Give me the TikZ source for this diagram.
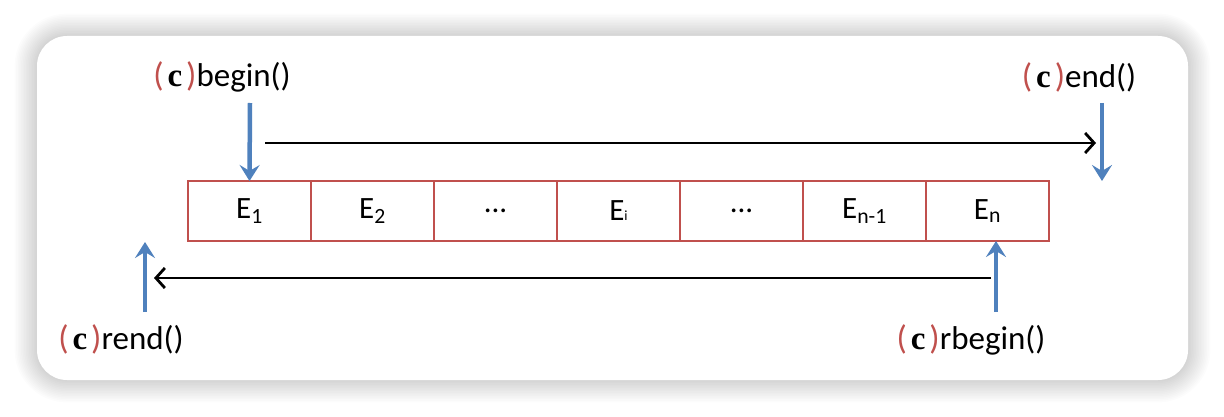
\documentclass[tikz,border=0pt]{standalone}
\usepackage{fontspec}
\setmainfont{Carlito}
\newfontfamily\serifc{Liberation Serif}
\usetikzlibrary{arrows.meta}
\definecolor{cblue}{HTML}{4F81BD}
\definecolor{cred}{HTML}{C0504D}
\newcommand{\cpre}{\textcolor{cred}{\fontsize{34}{34}\selectfont(}\kern4pt{\serifc\bfseries c}\kern4pt\textcolor{cred}{\fontsize{34}{34}\selectfont)}}
\tikzset{
  cell/.style={draw=cred, line width=2.3pt, outer sep=0pt, minimum width=123pt, minimum height=60pt, inner sep=0pt, font=\fontsize{31}{31}\selectfont, anchor=west},
  lbl/.style={font=\fontsize{33}{33}\selectfont, inner sep=0pt},
  bluearrow/.style={draw=cblue, line width=4.5pt, -{Stealth[length=16pt,width=20pt,inset=6pt]}},
  blackarrow/.style={draw=black, line width=2.8pt, -{Straight Barb[length=9pt,width=20pt,line width=2.8pt]}}
}
\begin{document}
\begin{tikzpicture}[x=1pt,y=1pt]
\useasboundingbox (0,0) rectangle (1224,416);
\fill[white] (0,0) rectangle (1224,416);
\foreach \i in {1,...,14}{
  \fill[black, opacity=0.011, rounded corners={30pt+\i*1.6pt}] (37-\i*1.6,36-\i*1.6) rectangle (1188+\i*1.6,380+\i*1.6);
}
\fill[white, rounded corners=30pt] (37,36) rectangle (1188,380);

% cells
\node[cell] (e1) at (188,205) {E\textsubscript{1}};
\node[cell] (e2) at (e1.east) {E\textsubscript{2}};
\node[cell] (e3) at (e2.east) {...};
\node[cell] (e4) at (e3.east) {E{\fontsize{14}{14}\selectfont i}};
\node[cell] (e5) at (e4.east) {...};
\node[cell] (e6) at (e5.east) {E\textsubscript{n-1}};
\node[cell] (e7) at (e6.east) {E\textsubscript{n}};

% labels
\node[lbl] (lbegin) at (222,339) {\cpre begin()};
\node[lbl] (lend) at (1079,339) {\cpre end()};
\node[lbl] (lrend) at (121,77) {\cpre rend()};
\node[lbl] (lrbegin) at (971,76) {\cpre rbegin()};

% coordinates
\coordinate (bs) at (250,313);
\coordinate (es) at (1102,313);
\coordinate (ee) at (1102,235);
\coordinate (rs) at (145,104);
\coordinate (re) at (145,174);
\coordinate (rbs) at (996,104);
\coordinate (ts) at (265,273);
\coordinate (te) at (1096,273);
\coordinate (bts) at (991,138);
\coordinate (bte) at (154,138);

\draw[bluearrow] (bs) -- (e1.north);
\draw[bluearrow] (es) -- (ee);
\draw[bluearrow] (rs) -- (re);
\draw[bluearrow] (rbs) -- (rbs |- e7.south);
\draw[blackarrow] (ts) -- (te);
\draw[blackarrow] (bts) -- (bte);
\end{tikzpicture}
\end{document}
